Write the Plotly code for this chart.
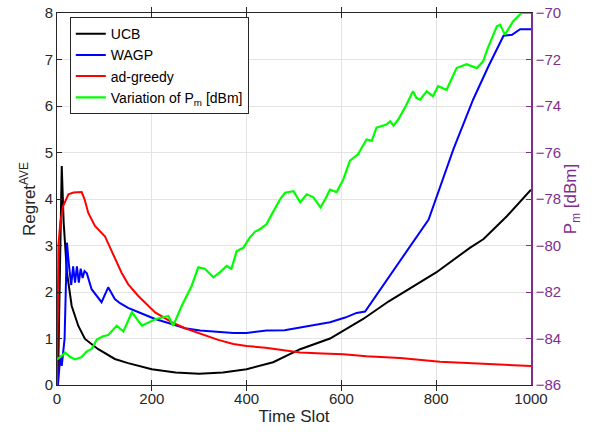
import plotly.graph_objects as go

# ---------------- data ----------------
ucb_t = [0, 2, 10, 14, 21, 31, 45, 59, 87, 122, 150, 200, 250, 300, 350, 400,
         456, 513, 576, 604, 646, 700, 752, 800, 871, 900, 949, 1000]
ucb_v = [0, 0, 4.71, 3.5, 2.42, 1.7, 1.27, 0.99, 0.77, 0.56, 0.47, 0.34, 0.27,
         0.24, 0.27, 0.34, 0.49, 0.77, 1.0, 1.17, 1.42, 1.8, 2.13, 2.42, 2.95,
         3.14, 3.63, 4.2]

wagp_t = [0, 2, 7, 10, 16, 21, 25, 30, 34, 38, 42, 46, 50, 54, 58, 63, 73, 94,
          108, 122, 133, 150, 171, 207, 242, 270, 302, 340, 372, 400, 442, 480,
          513, 550, 576, 608, 632, 650, 784, 836, 878, 910, 942, 960, 977, 1000]
wagp_v = [0, 0, 0.63, 0.41, 0.99, 3.06, 2.6, 2.15, 2.55, 2.2, 2.55, 2.2, 2.5,
          2.3, 2.45, 2.4, 2.06, 1.78, 2.1, 1.85, 1.76, 1.66, 1.57, 1.42, 1.31,
          1.22, 1.17, 1.14, 1.12, 1.12, 1.17, 1.18, 1.24, 1.3, 1.35, 1.45, 1.55,
          1.58, 3.56, 5.06, 6.14, 6.85, 7.51, 7.53, 7.65, 7.65]

greedy_t = [0, 3, 7, 13, 24, 35, 52, 58, 66, 80, 101, 110, 122, 136, 150, 171,
            207, 242, 270, 302, 340, 372, 400, 440, 480, 513, 560, 604, 653,
            724, 808, 900, 1000]
greedy_v = [0, 3.0, 3.5, 3.85, 4.1, 4.14, 4.15, 4.0, 3.7, 3.42, 3.2, 3.0, 2.7,
            2.42, 2.17, 1.92, 1.56, 1.35, 1.22, 1.1, 0.97, 0.88, 0.84, 0.8,
            0.74, 0.7, 0.68, 0.66, 0.62, 0.58, 0.5, 0.46, 0.41]

pm_t = [0, 10, 17, 28, 38, 52, 63, 73, 84, 97, 108, 126, 140, 158, 179, 207,
        235, 245, 263, 284, 298, 312, 330, 344, 358, 368, 379, 393, 407, 418,
        428, 442, 453, 471, 481, 499, 513, 527, 541, 556, 566, 576, 590, 604,
        618, 635, 653, 664, 674, 695, 703, 710, 720, 734, 751, 758, 766, 780,
        793, 804, 822, 843, 864, 886, 899, 909, 928, 935, 945, 962, 980, 1000]
pm_v = [-84.9, -84.75, -84.6, -84.8, -84.9, -84.8, -84.55, -84.45, -84.05,
        -83.9, -83.85, -83.45, -83.7, -82.87, -83.45, -83.17, -83.03, -83.45,
        -82.6, -81.74, -80.94, -81.0, -81.37, -81.15, -80.88, -81.0, -80.24,
        -80.1, -79.65, -79.4, -79.3, -79.09, -78.66, -78.0, -77.73, -77.66,
        -78.14, -77.8, -77.93, -78.36, -78.0, -77.6, -77.7, -77.16, -76.35,
        -76.08, -75.44, -75.5, -74.93, -74.8, -74.66, -74.85, -74.58, -74.07,
        -73.37, -73.65, -73.73, -73.37, -73.58, -73.15, -73.3, -72.37, -72.2,
        -72.37, -72.08, -71.5, -70.57, -70.5, -70.93, -70.36, -70.0, -70.0]

x_ticks = [0, 200, 400, 600, 800, 1000]
y_ticks = [0, 1, 2, 3, 4, 5, 6, 7, 8]
y2_ticks = [-86, -84, -82, -80, -78, -76, -74, -72, -70]

# ---------------- figure ----------------
AX = "#262626"
PURPLE = "#7E2F8E"
GRID = "#e3e3e3"
FONT = "Liberation Sans, Arial, Helvetica, sans-serif"

fig = go.Figure()
fig.add_trace(go.Scatter(x=ucb_t, y=ucb_v, mode="lines", name="UCB",
                         line=dict(color="#000000", width=2)))
fig.add_trace(go.Scatter(x=wagp_t, y=wagp_v, mode="lines", name="WAGP",
                         line=dict(color="#0000ff", width=2)))
fig.add_trace(go.Scatter(x=greedy_t, y=greedy_v, mode="lines", name="ad-greedy",
                         line=dict(color="#ff0000", width=2)))
fig.add_trace(go.Scatter(x=pm_t, y=pm_v, mode="lines", yaxis="y2",
                         name="Variation of P<sub>m</sub> [dBm]",
                         line=dict(color="#00ff00", width=2.2)))

fig.update_layout(
    width=597, height=432,
    margin=dict(l=57, r=66, t=13, b=47, autoexpand=False),
    paper_bgcolor="white", plot_bgcolor="white",
    font=dict(family=FONT, size=15, color=AX),
    showlegend=True,
    legend=dict(x=0.027, y=0.989, xanchor="left", yanchor="top",
                bgcolor="white", bordercolor=AX, borderwidth=1,
                font=dict(family=FONT, size=14, color="#000000"),
                tracegroupgap=0, itemwidth=30),
    xaxis=dict(range=[0, 1000], tickvals=x_ticks, ticks="inside", ticklen=5,
               tickcolor=AX, showline=True, linecolor=AX, linewidth=1,
               mirror="allticks", showgrid=True, gridcolor=GRID, zeroline=False,
               automargin=False,
               title=dict(text="Time Slot", font=dict(size=17, color=AX), standoff=1),
               tickfont=dict(size=15, color=AX)),
    yaxis=dict(range=[0, 8], tickvals=y_ticks, ticks="inside", ticklen=5,
               tickcolor=AX, showline=True, linecolor=AX, linewidth=1,
               showgrid=True, gridcolor=GRID, zeroline=False, automargin=False,
               title=dict(text="Regret<sup>AVE</sup>", font=dict(size=17, color=AX), standoff=4),
               tickfont=dict(size=15, color=AX)),
    yaxis2=dict(range=[-86, -70], tickvals=y2_ticks, overlaying="y", side="right",
                ticks="inside", ticklen=5, tickcolor=PURPLE, showline=True,
                linecolor=PURPLE, linewidth=1.5, showgrid=False, zeroline=False,
                automargin=False,
                title=dict(text="P<sub>m</sub> [dBm]", font=dict(size=17, color=PURPLE), standoff=2),
                tickfont=dict(size=15, color=PURPLE)),
)

# remove the browser's default 8px body margin so the figure sits at the page origin
fig.write_html("out.html", config={"displayModeBar": False},
               post_script="document.body.style.margin='0';")
